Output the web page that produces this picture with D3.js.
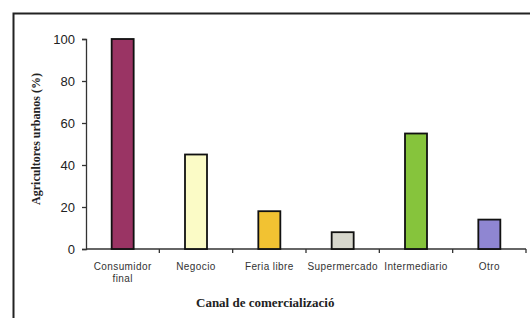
<!DOCTYPE html>
<html>
<head>
<meta charset="utf-8">
<script src="https://cdn.jsdelivr.net/npm/d3@7"></script>
<style>
  body { margin: 0; background: #fff; }
</style>
</head>
<body>
<div id="chart"></div>
<script>
// datos
var categorias = ["Consumidor final", "Negocio", "Feria libre", "Supermercado", "Intermediario", "Otro"];
var etiquetas = [["Consumidor", "final"], ["Negocio"], ["Feria libre"], ["Supermercado"], ["Intermediario"], ["Otro"]];
var valores = [100, 45, 18, 8, 55, 14];
var colores = ["#9a3464", "#fbfbc6", "#f2c232", "#d6d6cc", "#86c43c", "#8f86d2"];
var yTicks = [0, 20, 40, 60, 80, 100];

var W = 530, H = 318;
var MARGIN = { top: 39, left: 86, right: 4, bottom: 69 };
var width = W - MARGIN.left - MARGIN.right;
var height = H - MARGIN.top - MARGIN.bottom;

var svg = d3.select("#chart").append("svg")
  .attr("width", W)
  .attr("height", H);

// marco
svg.append("path")
  .attr("d", "M13.5," + H + " L13.5,13.5 L" + W + ",13.5")
  .attr("fill", "none")
  .attr("stroke", "#222")
  .attr("stroke-width", 2);

var g = svg.append("g")
  .attr("transform", "translate(" + MARGIN.left + "," + MARGIN.top + ")");

var x = d3.scaleBand()
  .domain(categorias)
  .range([0, width])
  .paddingInner(0.7)
  .paddingOuter(0.35);

var y = d3.scaleLinear()
  .domain([0, 100])
  .range([height, 0]);

// eje y
var yAxis = g.append("g")
  .call(d3.axisLeft(y).tickValues(yTicks).tickSize(4).tickPadding(7));
yAxis.select(".domain").attr("stroke", "#333").attr("stroke-width", 1.3);
yAxis.selectAll("line").attr("stroke", "#333").attr("stroke-width", 1.3);
yAxis.selectAll("text")
  .style("font-family", "Arial, 'Liberation Sans', sans-serif")
  .style("font-size", "13px")
  .attr("fill", "#222");

// eje x: marcas en los limites de cada categoria
var bordes = categorias.map(function (c, i) { return (i + 1) * width / categorias.length; });
g.append("line")
  .attr("x1", 0).attr("x2", width)
  .attr("y1", height).attr("y2", height)
  .attr("stroke", "#333").attr("stroke-width", 1.3);
g.selectAll(".xtick")
  .data(bordes)
  .enter().append("line")
  .attr("class", "xtick")
  .attr("x1", function (d) { return d; })
  .attr("x2", function (d) { return d; })
  .attr("y1", height).attr("y2", height + 4)
  .attr("stroke", "#333").attr("stroke-width", 1.3);

// barras
g.selectAll(".bar")
  .data(valores)
  .enter().append("rect")
  .attr("class", "bar")
  .attr("x", function (d, i) { return x(categorias[i]); })
  .attr("y", function (d) { return y(d); })
  .attr("width", x.bandwidth())
  .attr("height", function (d) { return height - y(d); })
  .attr("fill", function (d, i) { return colores[i]; })
  .attr("stroke", "#111")
  .attr("stroke-width", 1.8);

// etiquetas categorias
var lab = g.selectAll(".xlab")
  .data(etiquetas)
  .enter().append("text")
  .attr("class", "xlab")
  .attr("text-anchor", "middle")
  .attr("y", height + 21)
  .style("font-family", "Arial, 'Liberation Sans', sans-serif")
  .style("font-size", "10px")
  .style("letter-spacing", "0.4px")
  .attr("fill", "#333");
lab.each(function (d, i) {
  var t = d3.select(this);
  d.forEach(function (linea, k) {
    t.append("tspan")
      .attr("x", x(categorias[i]) + x.bandwidth() / 2)
      .attr("dy", k === 0 ? 0 : 12)
      .text(linea);
  });
});

// titulos de ejes
svg.append("text")
  .attr("x", 196)
  .attr("y", 307)
  .attr("text-anchor", "start")
  .style("font-family", "'Liberation Serif', 'Times New Roman', serif")
  .style("font-weight", "bold")
  .style("font-size", "13px")
  .attr("fill", "#222")
  .text("Canal de comercializació");

svg.append("text")
  .attr("transform", "translate(40,139) rotate(-90)")
  .attr("text-anchor", "middle")
  .style("font-family", "'Liberation Serif', 'Times New Roman', serif")
  .style("font-weight", "bold")
  .style("font-size", "12px")
  .attr("fill", "#222")
  .text("Agricultores urbanos (%)");
</script>
</body>
</html>
